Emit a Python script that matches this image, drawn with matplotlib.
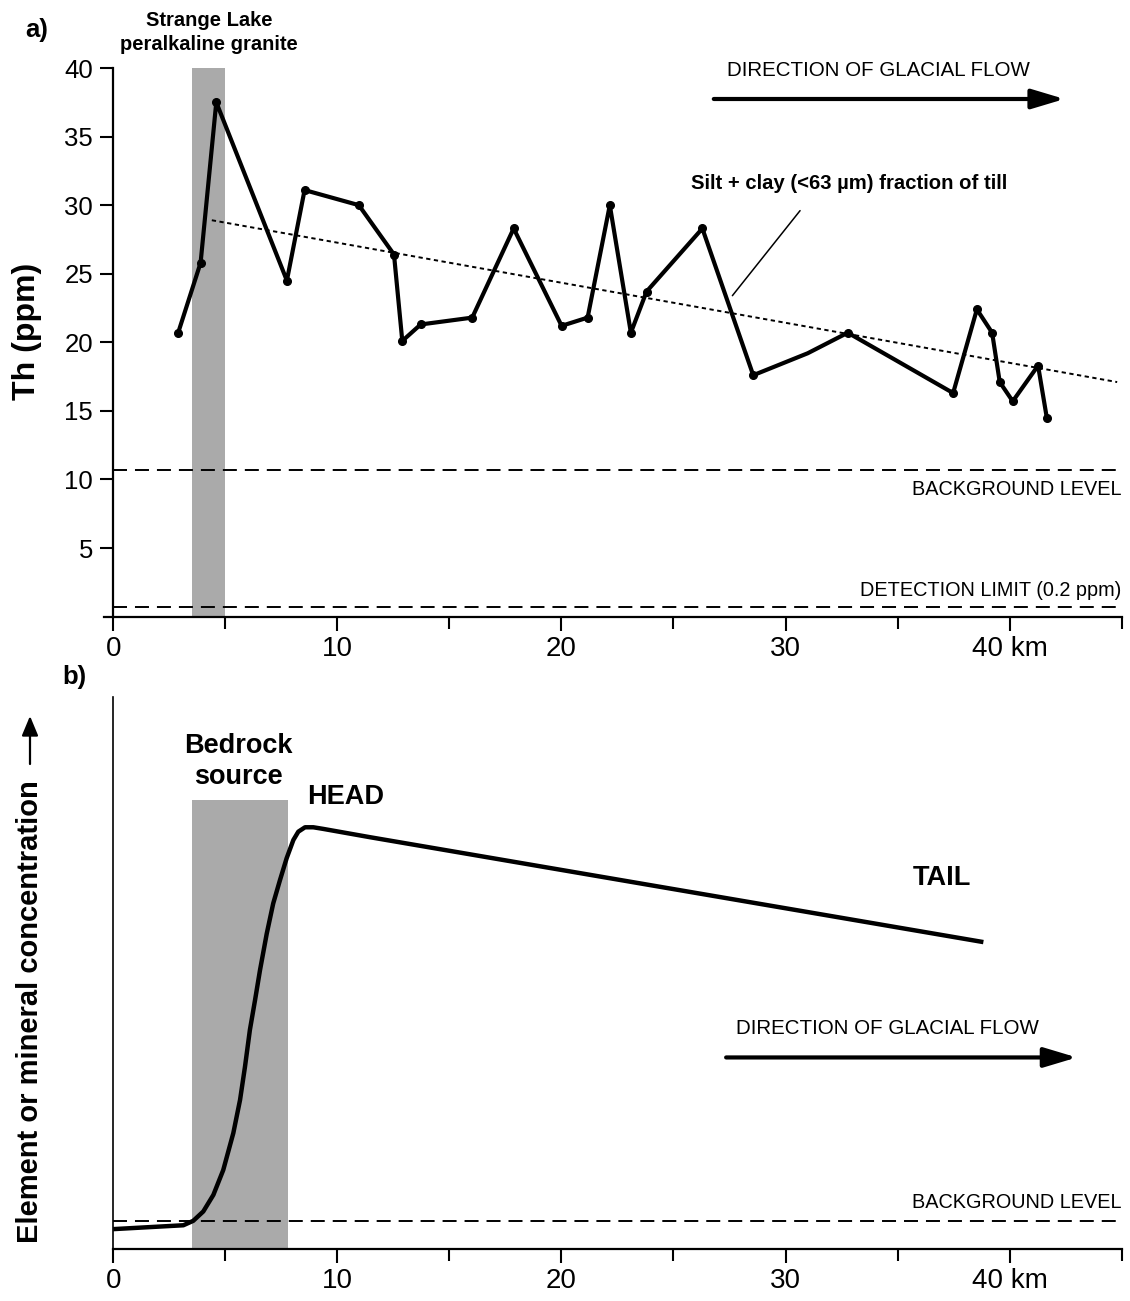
import matplotlib
matplotlib.use('Agg')
import matplotlib.pyplot as plt

plt.rcParams['font.family'] = ['Liberation Sans', 'DejaVu Sans']

# a) Th in till, distance down-ice (km) vs ppm
dist_km = [2.90, 3.90, 4.60, 7.75, 8.54, 10.96, 12.53, 12.90, 13.72, 16.02, 17.87,
           20.01, 21.17, 22.16, 23.10, 23.80, 26.29, 28.56, 30.99, 32.78, 37.48,
           38.54, 39.22, 39.56, 40.14, 41.27, 41.66]
th_ppm = [20.7, 25.8, 37.5, 24.5, 31.1, 30.0, 26.4, 20.1, 21.3, 21.8, 28.3,
          21.2, 21.8, 30.0, 20.7, 23.7, 28.3, 17.6, 19.2, 20.7, 16.3,
          22.4, 20.7, 17.1, 15.7, 18.3, 14.5]
no_dot = [18]  # bend without a sample dot
trend_x = [4.4, 44.8]
trend_y = [28.9, 17.1]
background_ppm = 10.7
detection_ppm = 0.7
granite_km = (3.5, 5.0)

# b) idealised dispersal train
curve_x = [0.0, 3.13, 3.57, 4.02, 4.47, 4.91, 5.36, 5.66, 5.88, 6.10, 6.33, 6.55,
           6.85, 7.14, 7.44, 7.74, 8.04, 8.26, 8.56, 8.93, 9.38, 11.46, 38.83]
curve_y = [3.6, 4.3, 5.1, 6.8, 9.8, 14.3, 21.0, 27.0, 33.0, 39.7, 45.1, 50.5,
           57.1, 62.6, 66.8, 70.8, 74.1, 75.6, 76.4, 76.4, 76.1, 74.6, 55.6]
bedrock_km = (3.5, 7.78)
bedrock_top = 81.3
background_b = 5.1

xticks = [0, 10, 20, 30, 40]
xlabels = ['0', '10', '20', '30', '40 km']

W, H = 1130, 1301
x0, pxkm = 113.2, 22.41
fig = plt.figure(figsize=(W / 100, H / 100), dpi=100)
ax1 = fig.add_axes([x0 / W, 1 - 616.6 / H, 45 * pxkm / W, (616.6 - 68) / H])
ax2 = fig.add_axes([x0 / W, 1 - 1249 / H, 45 * pxkm / W, (1249 - 697) / H])

grey = '#aaaaaa'
dash = (0, (7.2, 4.1))

for ax in (ax1, ax2):
    ax.spines['top'].set_visible(False)
    ax.spines['right'].set_visible(False)
    ax.spines['bottom'].set_linewidth(1.6)
    ax.set_xlim(0, 45)
    ax.set_xticks(xticks)
    ax.set_xticklabels(xlabels)
    ax.set_xticks([5, 15, 25, 35, 45], minor=True)
    ax.tick_params(axis='x', which='major', length=10, width=1.5, labelsize=20, pad=4)
    ax.tick_params(axis='x', which='minor', length=8.5, width=1.5)

# ---- panel a
ax1.set_ylim(0, 40)
ax1.spines['left'].set_linewidth(1.6)
ax1.spines['bottom'].set_bounds(-0.4, 45)
ax1.set_yticks([5, 10, 15, 20, 25, 30, 35, 40])
ax1.tick_params(axis='y', length=9.5, width=1.5, labelsize=18.5, pad=5)

ax1.axvspan(granite_km[0], granite_km[1], color=grey, lw=0, zorder=0)
ax1.axhline(background_ppm, color='k', lw=1.4, ls=dash)
ax1.axhline(detection_ppm, color='k', lw=1.4, ls=dash)
ax1.plot(trend_x, trend_y, color='k', lw=1.4, ls=(0, (2.2, 1.8)))
keep = [i for i in range(len(dist_km)) if i not in no_dot]
ax1.plot(dist_km, th_ppm, color='k', lw=3.0, marker='o', ms=5.5, markevery=keep,
         solid_joinstyle='round')

fig.text(27 / W, 1 - 331 / H, 'Th (ppm)', rotation=90, ha='center', va='center',
         fontsize=23, fontweight='bold')
ax1.text(45, 9.3, 'BACKGROUND LEVEL', ha='right', va='center', fontsize=14.3)
ax1.text(45, 1.9, 'DETECTION LIMIT (0.2 ppm)', ha='right', va='center', fontsize=14.3)
ax1.text(34.15, 39.8, 'DIRECTION OF GLACIAL FLOW', ha='center', va='center', fontsize=14.8)
ax1.annotate('', xy=(42.45, 37.74), xytext=(26.8, 37.74),
             arrowprops=dict(arrowstyle='-|>,head_length=1.0,head_width=0.3',
                             mutation_scale=20, lw=3, color='k',
                             shrinkA=0, shrinkB=0))
ax1.text(32.83, 31.6, 'Silt + clay (<63 µm) fraction of till', ha='center',
         va='center', fontsize=14.6, fontweight='bold')
ax1.annotate('', xy=(27.63, 23.4), xytext=(30.65, 29.6),
             arrowprops=dict(arrowstyle='-', lw=1.1, color='k', shrinkA=0, shrinkB=0))
ax1.text(4.27, 42.6, 'Strange Lake\nperalkaline granite', ha='center', va='center',
         fontsize=14.5, fontweight='bold', linespacing=1.3, clip_on=False)

# ---- panel b
ax2.set_ylim(0, 100)
ax2.spines['left'].set_linewidth(1.2)
ax2.set_yticks([])
ax2.fill_between(bedrock_km, 0, bedrock_top, color=grey, lw=0, zorder=0)
ax2.axhline(background_b, color='k', lw=1.4, ls=dash)
ax2.plot(curve_x, curve_y, color='k', lw=3.2, solid_capstyle='butt',
         solid_joinstyle='round')
ax2.text(45, 8.5, 'BACKGROUND LEVEL', ha='right', va='center', fontsize=14.3)
ax2.text(34.55, 39.9, 'DIRECTION OF GLACIAL FLOW', ha='center', va='center', fontsize=14.8)
ax2.annotate('', xy=(43.0, 34.7), xytext=(27.35, 34.7),
             arrowprops=dict(arrowstyle='-|>,head_length=1.0,head_width=0.3',
                             mutation_scale=20, lw=3, color='k',
                             shrinkA=0, shrinkB=0))
ax2.text(5.57, 88.3, 'Bedrock\nsource', ha='center', va='center', fontsize=19.5,
         fontweight='bold', linespacing=1.25)
ax2.text(10.35, 81.9, 'HEAD', ha='center', va='center', fontsize=19.5, fontweight='bold')
ax2.text(36.98, 67.2, 'TAIL', ha='center', va='center', fontsize=19.5, fontweight='bold')

# y label of b with its arrow
fig.text(30 / W, 1 - 1012 / H, 'Element or mineral concentration', rotation=90,
         ha='center', va='center', fontsize=21, fontweight='bold')
fig.add_artist(matplotlib.patches.FancyArrowPatch(
    (30 / W, 1 - 764 / H), (30 / W, 1 - 716 / H), transform=fig.transFigure,
    arrowstyle='-|>,head_length=0.6,head_width=0.25', mutation_scale=20,
    lw=1.6, color='k', shrinkA=0, shrinkB=0))

fig.text(37 / W, 1 - 30 / H, 'a)', ha='center', va='center', fontsize=18.5, fontweight='bold')
fig.text(74 / W, 1 - 677 / H, 'b)', ha='center', va='center', fontsize=18.5, fontweight='bold')

fig.savefig('out.png', dpi=100)
